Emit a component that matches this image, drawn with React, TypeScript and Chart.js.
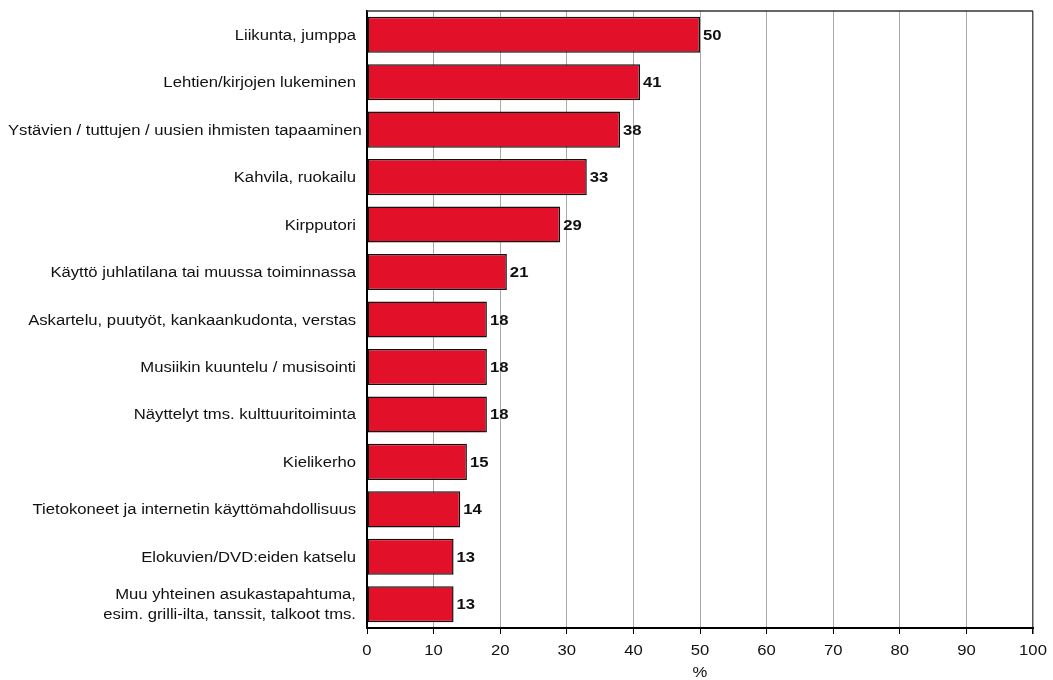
import React, { useEffect, useRef } from "react";
import { Chart, registerables } from "chart.js";

Chart.register(...registerables);

const categories: (string | string[])[] = [
  "Liikunta, jumppa",
  "Lehtien/kirjojen lukeminen",
  "Ystävien / tuttujen / uusien ihmisten tapaaminen",
  "Kahvila, ruokailu",
  "Kirpputori",
  "Käyttö juhlatilana tai muussa toiminnassa",
  "Askartelu, puutyöt, kankaankudonta, verstas",
  "Musiikin kuuntelu / musisointi",
  "Näyttelyt tms. kulttuuritoiminta",
  "Kielikerho",
  "Tietokoneet ja internetin käyttömahdollisuus",
  "Elokuvien/DVD:eiden katselu",
  ["Muu yhteinen asukastapahtuma,", "esim. grilli-ilta, tanssit, talkoot tms."],
];

const values: number[] = [50, 41, 38, 33, 29, 21, 18, 18, 18, 15, 14, 13, 13];

const xTicks: number[] = [0, 10, 20, 30, 40, 50, 60, 70, 80, 90, 100];
const xTitle = "%";

const SX = 1.19;
const FONT = "Liberation Sans, Arial, sans-serif";

function drawText(
  ctx: CanvasRenderingContext2D,
  text: string,
  x: number,
  y: number,
  align: "left" | "right" | "center",
  font: string
) {
  ctx.save();
  ctx.font = font;
  const w = ctx.measureText(text).width * SX;
  let left = x;
  if (align === "right") left = x - w;
  else if (align === "center") left = x - w / 2;
  ctx.translate(left, y);
  ctx.scale(SX, 1);
  ctx.textAlign = "left";
  ctx.textBaseline = "alphabetic";
  ctx.fillText(text, 0, 0);
  ctx.restore();
}

const textPlugin = {
  id: "customText",
  afterDraw(chart: any) {
    const ctx: CanvasRenderingContext2D = chart.ctx;
    const xs = chart.scales.x;
    const ys = chart.scales.y;
    const area = chart.chartArea;
    ctx.save();
    // top border
    ctx.strokeStyle = "#333";
    ctx.lineWidth = 1.5;
    ctx.beginPath();
    ctx.moveTo(area.left, area.top);
    ctx.lineTo(area.right, area.top);
    ctx.stroke();

    ctx.fillStyle = "#111";
    const normal = `14px ${FONT}`;
    const bold = `bold 14px ${FONT}`;
    // category labels
    categories.forEach((c, i) => {
      const yc = ys.getPixelForValue(i);
      const lines = Array.isArray(c) ? c : [c];
      const lh = 20;
      lines.forEach((ln, k) => {
        const y = yc + (k - (lines.length - 1) / 2) * lh + 5;
        ctx.font = normal;
        const w = ctx.measureText(ln).width * SX;
        const right = Math.max(area.left - 11, 8 + w);
        drawText(ctx, ln, right, y, "right", normal);
      });
    });
    // value labels
    const meta = chart.getDatasetMeta(0);
    meta.data.forEach((bar: any, i: number) => {
      drawText(ctx, String(values[i]), bar.x + 3, bar.y + 5, "left", bold);
    });
    // x tick labels
    xTicks.forEach((t) => {
      drawText(ctx, String(t), xs.getPixelForValue(t), area.bottom + 27, "center", normal);
    });
    drawText(ctx, xTitle, (area.left + area.right) / 2, area.bottom + 49, "center", normal);
    ctx.restore();
  },
};

export default function App() {
  const ref = useRef<HTMLCanvasElement | null>(null);
  useEffect(() => {
    if (!ref.current) return;
    const chart = new Chart(ref.current, {
      type: "bar",
      data: {
        labels: categories as any,
        datasets: [
          {
            data: values,
            backgroundColor: "#E3102A",
            borderColor: "#111",
            borderWidth: 1.5,
            borderSkipped: false,
            barPercentage: 0.76,
            categoryPercentage: 1,
          },
        ],
      },
      options: {
        indexAxis: "y",
        animation: false,
        responsive: true,
        maintainAspectRatio: false,
        layout: { padding: { top: 11, right: 20, left: 0, bottom: 0 } },
        plugins: {
          legend: { display: false },
          tooltip: { enabled: false },
          title: { display: false },
        },
        scales: {
          y: {
            type: "category",
            ticks: { display: false },
            grid: { display: false, drawTicks: false },
            border: { display: true, color: "#000", width: 2 },
            afterFit: (s: any) => {
              s.width = 367;
            },
          },
          x: {
            type: "linear",
            min: 0,
            max: 100,
            ticks: { display: false, stepSize: 10 },
            grid: {
              color: (c: any) => (c.tick && c.tick.value === 100 ? "#555" : "#aaa"),
              lineWidth: (c: any) => (c.tick && c.tick.value === 100 ? 1.5 : 1),
              drawTicks: true,
              tickLength: 6,
              tickColor: "#000",
            },
            border: { display: true, color: "#000", width: 2 },
            afterFit: (s: any) => {
              s.height = 52;
            },
          },
        },
      } as any,
      plugins: [textPlugin],
    });
    return () => chart.destroy();
  }, []);
  return (
    <div style={{ position: "absolute", left: 0, top: 0, width: 1053, height: 680, background: "#fff" }}>
      <canvas ref={ref} />
    </div>
  );
}
